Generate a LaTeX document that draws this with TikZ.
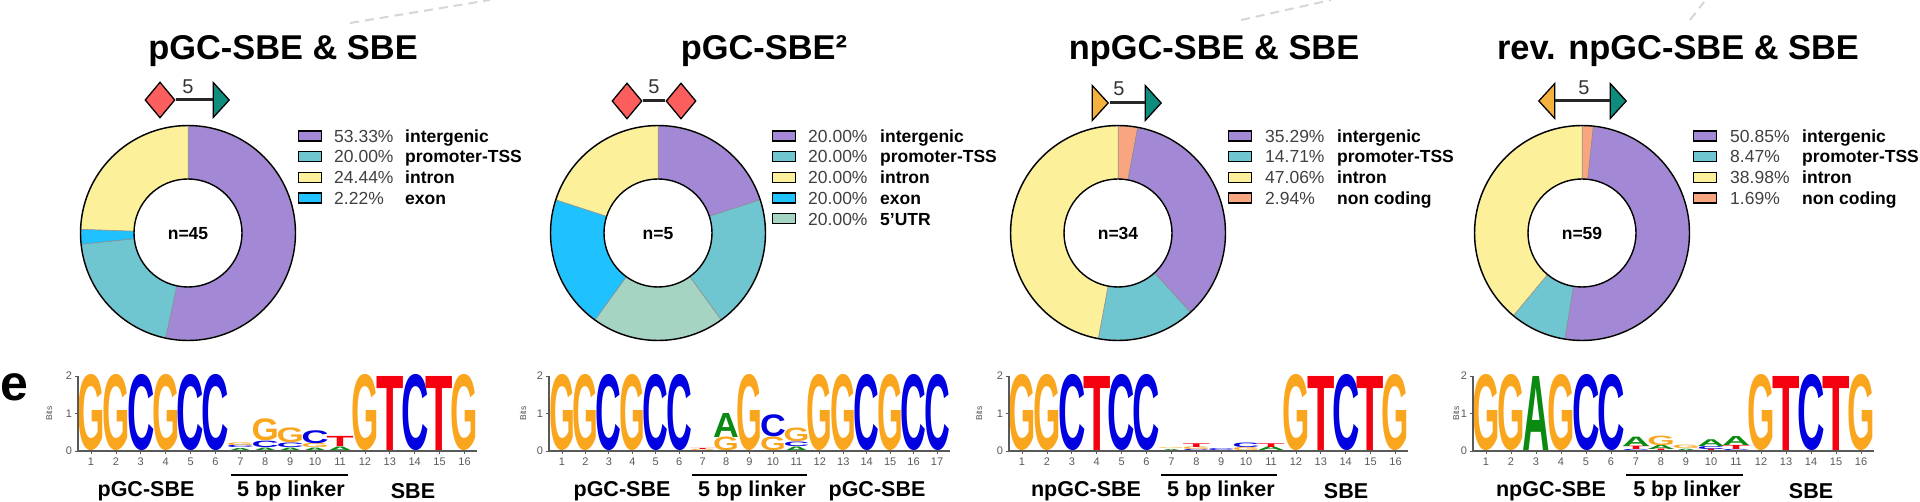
\documentclass[tikz,border=0pt]{standalone}
\usepackage{fontspec}
\setmainfont{Liberation Sans}
\usepackage{graphicx}
\usetikzlibrary{shapes.geometric}

\definecolor{colInter}{HTML}{A388D5}
\definecolor{colProm}{HTML}{6FC6D1}
\definecolor{colIntron}{HTML}{FDF09A}
\definecolor{colExon}{HTML}{1FC2FF}
\definecolor{colUtr}{HTML}{A5D5C2}
\definecolor{colNon}{HTML}{F9A580}
\definecolor{colRed}{HTML}{FC5E5E}
\definecolor{colTeal}{HTML}{0E8C7E}
\definecolor{colAmber}{HTML}{F4B13E}
\definecolor{baseG}{HTML}{F9A61E}
\definecolor{baseC}{HTML}{0000E0}
\definecolor{baseT}{HTML}{F5000F}
\definecolor{baseA}{HTML}{0B8A12}

\tikzset{
	titletext/.style={font=\fontsize{34.4}{36}\selectfont\bfseries,inner sep=0,text height=24.6pt,text depth=0pt},
	grouptext/.style={font=\fontsize{21.5}{24}\selectfont\bfseries,inner sep=0},
	pcttext/.style={font=\fontsize{17.5}{20}\selectfont,text=black!75,anchor=west,inner sep=0,text height=12.6pt,text depth=0pt},
	labtext/.style={font=\fontsize{17.5}{20}\selectfont\bfseries,anchor=west,inner sep=0,text height=12.6pt,text depth=0pt},
	swatch/.style={draw=black,line width=1.3pt,minimum width=23pt,minimum height=10pt,inner sep=0},
	numtext/.style={font=\fontsize{11}{12}\selectfont,text=black!65,inner sep=0},
	baseletter/.style={font=\bfseries,anchor=south,inner sep=0,outer sep=0},
	linkerbar/.style={draw=black,line width=1.6pt},
	glylink/.style={draw=black!85,line width=3pt},
	sugdiamond/.style={diamond,draw=black,line width=1.3pt,fill=colRed,inner sep=0,
		minimum width=30pt,minimum height=36pt},
	sugtri/.style={isosceles triangle,isosceles triangle stretches,draw=black,line width=1.3pt,
		inner sep=0,minimum width=35pt,minimum height=16pt},
	fivetext/.style={font=\fontsize{20}{22}\selectfont,text=black!80,inner sep=0},
	fadeline/.style={draw=black!16,dash pattern=on 9pt off 6pt,line width=2pt}
}

% donut: name, centre x, count text, clockwise slices from/to/colour
\newcommand{\donut}[4]{
	\begin{scope}[shift={(#2,233)},y=1pt]
		\foreach \from/\to/\col in {#4}{
			\draw[draw=black!45,line width=0.5pt,fill=\col]
				(90-\from:107pt) arc[start angle=90-\from,end angle=90-\to,radius=107pt]
				-- (90-\to:54pt) arc[start angle=90-\to,end angle=90-\from,radius=54pt] -- cycle;
		}
		\node[circle,draw=black,line width=1.4pt,inner sep=0,minimum size=215pt] (#1ring) at (0,0) {};
		\node[circle,draw=black,line width=1.4pt,fill=white,inner sep=0,minimum size=108pt,
			text height=12.6pt,text depth=0pt,
			font=\fontsize{17.5}{20}\selectfont\bfseries] (#1n) at (0,0) {#3};
	\end{scope}
}

% legend: name, swatch left, percent x, label x, rows colour/percent/label
\newcommand{\legendrows}[5]{
	\foreach \col/\pct/\lab [count=\i from 0] in {#5}{
		\node[swatch,fill=\col,anchor=west] (#1s\i) at (#2,136+20.7*\i) {};
		\node[pcttext] (#1p\i) at (#3,136+20.7*\i) {\pct};
		\node[labtext] (#1t\i) at (#4,136+20.7*\i) {\lab};
	}
}

% logo: name, x of column 1, column pitch, columns, x offset of Bits, letters col/low/tall/base
\newcommand{\seqlogo}[6]{
	\begin{scope}[shift={(#2,451)},x=#3pt,y=37.5pt]
		\pgfmathsetlengthmacro{\ww}{#3pt*1.1}
		\foreach \pos/\low/\tall/\base [count=\i] in {#6}{
			\pgfmathsetlengthmacro{\hh}{37.5pt*\tall}
			\node[baseletter,text=base\base] (#1l\i) at ({\pos-1},\low)
				{\resizebox{\ww}{\hh}{\base}};
		}
		\draw[draw=black!65,line width=1.1pt] (-13pt,75pt) -- (-13pt,0pt)
			-- ({((#4-1)*#3+12.5)*1pt},0pt);
		\foreach \tick in {0,1,2}{
			\draw[draw=black!65,line width=0.8pt] (-13pt,{37.5pt*\tick}) -- (-16pt,{37.5pt*\tick});
			\node[numtext] (#1y\tick) at (-22pt,{37.5pt*\tick}) {\tick};
		}
		\foreach \c in {1,...,#4}{
			\draw[draw=black!65,line width=0.8pt] ({(\c-1)*#3pt},0pt) -- ++(0pt,-3pt);
			\node[numtext,yshift=-11pt] (#1x\c) at ({\c-1},0) {\c};
		}
		\node[rotate=90,font=\fontsize{8.5}{10}\selectfont,text=black!70,inner sep=0] (#1bits) at (#5pt,37.5pt) {Bits};
	\end{scope}
}

\begin{document}
\begin{tikzpicture}[x=1pt,y=-1pt]
	\useasboundingbox (0,0) rectangle (1920,502);

	% faint leader lines at the top
	\coordinate (fadeAa) at (350,23);
	\coordinate (fadeAb) at (490,0);
	\coordinate (fadeCa) at (1241,20);
	\coordinate (fadeCb) at (1331,0);
	\coordinate (fadeDa) at (1690,20);
	\coordinate (fadeDb) at (1704,2);
	\draw[fadeline] (fadeAa) -- (fadeAb);
	\draw[fadeline] (fadeCa) -- (fadeCb);
	\draw[fadeline] (fadeDa) -- (fadeDb);

	% titles
	\node[titletext] (titleA) at (283,47) {pGC-SBE \& SBE};
	\node[titletext] (titleB) at (764,47) {pGC-SBE²};
	\node[titletext] (titleC) at (1214,47) {npGC-SBE \& SBE};
	\node[titletext] (titleD) at (1678,47) {rev. npGC-SBE \& SBE};

	% glycan symbols
	\node[sugdiamond] (diaA) at (160,100) {};
	\node[sugtri,fill=colTeal] (triA) at (220,100) {};
	\draw[glylink] (diaA) -- (triA);
	\node[fivetext] (fiveA) at (188,87) {5};

	\node[sugdiamond] (diaBa) at (627,101) {};
	\node[sugdiamond] (diaBb) at (681,101) {};
	\draw[glylink] (diaBa) -- (diaBb);
	\node[fivetext] (fiveB) at (654,87) {5};

	\node[sugtri,fill=colAmber] (triCa) at (1099,103) {};
	\node[sugtri,fill=colTeal] (triCb) at (1152,103) {};
	\draw[glylink] (triCa) -- (triCb);
	\node[fivetext] (fiveC) at (1119,89) {5};

	\node[sugtri,fill=colAmber,shape border rotate=180] (triDa) at (1548,101) {};
	\node[sugtri,fill=colTeal] (triDb) at (1617,101) {};
	\draw[glylink] (triDa) -- (triDb);
	\node[fivetext] (fiveD) at (1584,88) {5};

	% donuts
	\donut{donutA}{188}{n=45}{0/192/colInter,192/264/colProm,264/272/colExon,272/360/colIntron}
	\donut{donutB}{658}{n=5}{0/72/colInter,72/144/colProm,144/216/colUtr,216/288/colExon,288/360/colIntron}
	\donut{donutC}{1118}{n=34}{0/10.6/colNon,10.6/137.6/colInter,137.6/190.6/colProm,190.6/360/colIntron}
	\donut{donutD}{1582}{n=59}{0/6.1/colNon,6.1/189.2/colInter,189.2/219.7/colProm,219.7/360/colIntron}

	% legends
	\legendrows{legA}{298}{334}{405}{colInter/53.33\%/intergenic,colProm/20.00\%/promoter-TSS,colIntron/24.44\%/intron,colExon/2.22\%/exon}
	\legendrows{legB}{772}{808}{880}{colInter/20.00\%/intergenic,colProm/20.00\%/promoter-TSS,colIntron/20.00\%/intron,colExon/20.00\%/exon,colUtr/20.00\%/5'UTR}
	\legendrows{legC}{1228}{1265}{1337}{colInter/35.29\%/intergenic,colProm/14.71\%/promoter-TSS,colIntron/47.06\%/intron,colNon/2.94\%/non coding}
	\legendrows{legD}{1693}{1730}{1802}{colInter/50.85\%/intergenic,colProm/8.47\%/promoter-TSS,colIntron/38.98\%/intron,colNon/1.69\%/non coding}

	% panel letter
	\node[font=\fontsize{50}{52}\selectfont\bfseries,inner sep=0] (panelE) at (14,387) {e};

	% sequence logos
	\seqlogo{logoA}{91}{24.9}{16}{-42}{1/0/2/G,2/0/2/G,3/0/2/C,4/0/2/G,5/0/2/C,6/0/2/C,
		7/0/.08/A,7/.08/.06/C,7/.14/.07/G,
		8/0/.09/A,8/.09/.17/C,8/.26/.58/G,
		9/0/.09/A,9/.09/.12/C,9/.21/.39/G,
		10/0/.09/A,10/.09/.11/G,10/.2/.34/C,
		11/0/.12/A,11/.12/.27/T,
		12/0/2/G,13/0/2/T,14/0/2/C,15/0/2/T,16/0/2/G}
	\seqlogo{logoB}{562}{23.44}{17}{-39}{1/0/2/G,2/0/2/G,3/0/2/C,4/0/2/G,5/0/2/C,6/0/2/C,
		7/0/.03/G,7/.03/.03/T,
		8/0/.36/G,8/.36/.64/A,
		9/0/2/G,
		10/0/.36/G,10/.38/.58/C,
		11/0/.12/A,11/.12/.12/C,11/.24/.36/G,
		12/0/2/G,13/0/2/G,14/0/2/C,15/0/2/G,16/0/2/C,17/0/2/C}
	\seqlogo{logoC}{1022}{24.9}{16}{-43}{1/0/2/G,2/0/2/G,3/0/2/C,4/0/2/T,5/0/2/C,6/0/2/C,
		7/0/.05/A,7/.05/.02/G,
		8/0/.03/C,8/.03/.07/G,8/.1/.1/T,
		9/0/.05/C,
		10/0/.08/G,10/.08/.12/C,
		11/0/.1/A,11/.1/.1/T,
		12/0/2/G,13/0/2/T,14/0/2/C,15/0/2/T,16/0/2/G}
	\seqlogo{logoD}{1486}{25}{16}{-30}{1/0/2/G,2/0/2/G,3/0/2/A,4/0/2/G,5/0/2/C,6/0/2/C,
		7/0/.03/C,7/.03/.09/T,7/.12/.25/A,
		8/0/.04/T,8/.04/.11/A,8/.15/.25/G,
		9/0/.06/A,9/.06/.09/G,
		10/0/.04/T,10/.04/.08/C,10/.12/.18/A,
		11/0/.03/C,11/.03/.11/T,11/.14/.24/A,
		12/0/2/G,13/0/2/T,14/0/2/C,15/0/2/T,16/0/2/G}

	% linker bars
	\coordinate (barAa) at (231,475);
	\coordinate (barAb) at (348,475);
	\coordinate (barBa) at (692,475);
	\coordinate (barBb) at (807,475);
	\coordinate (barCa) at (1161,475);
	\coordinate (barCb) at (1277,475);
	\coordinate (barDa) at (1626,475);
	\coordinate (barDb) at (1743,475);
	\draw[linkerbar] (barAa) -- (barAb);
	\draw[linkerbar] (barBa) -- (barBb);
	\draw[linkerbar] (barCa) -- (barCb);
	\draw[linkerbar] (barDa) -- (barDb);

	% labels under the logos
	\node[grouptext] (motifAa) at (146,491) {pGC-SBE};
	\node[grouptext] (linkerA) at (291,491) {5 bp linker};
	\node[grouptext] (motifAb) at (413,491) {SBE};
	\node[grouptext] (motifBa) at (622,491) {pGC-SBE};
	\node[grouptext] (linkerB) at (752,491) {5 bp linker};
	\node[grouptext] (motifBb) at (877,491) {pGC-SBE};
	\node[grouptext] (motifCa) at (1086,491) {npGC-SBE};
	\node[grouptext] (linkerC) at (1221,491) {5 bp linker};
	\node[grouptext] (motifCb) at (1346,491) {SBE};
	\node[grouptext] (motifDa) at (1551,491) {npGC-SBE};
	\node[grouptext] (linkerD) at (1687,491) {5 bp linker};
	\node[grouptext] (motifDb) at (1811,491) {SBE};
\end{tikzpicture}
\end{document}
